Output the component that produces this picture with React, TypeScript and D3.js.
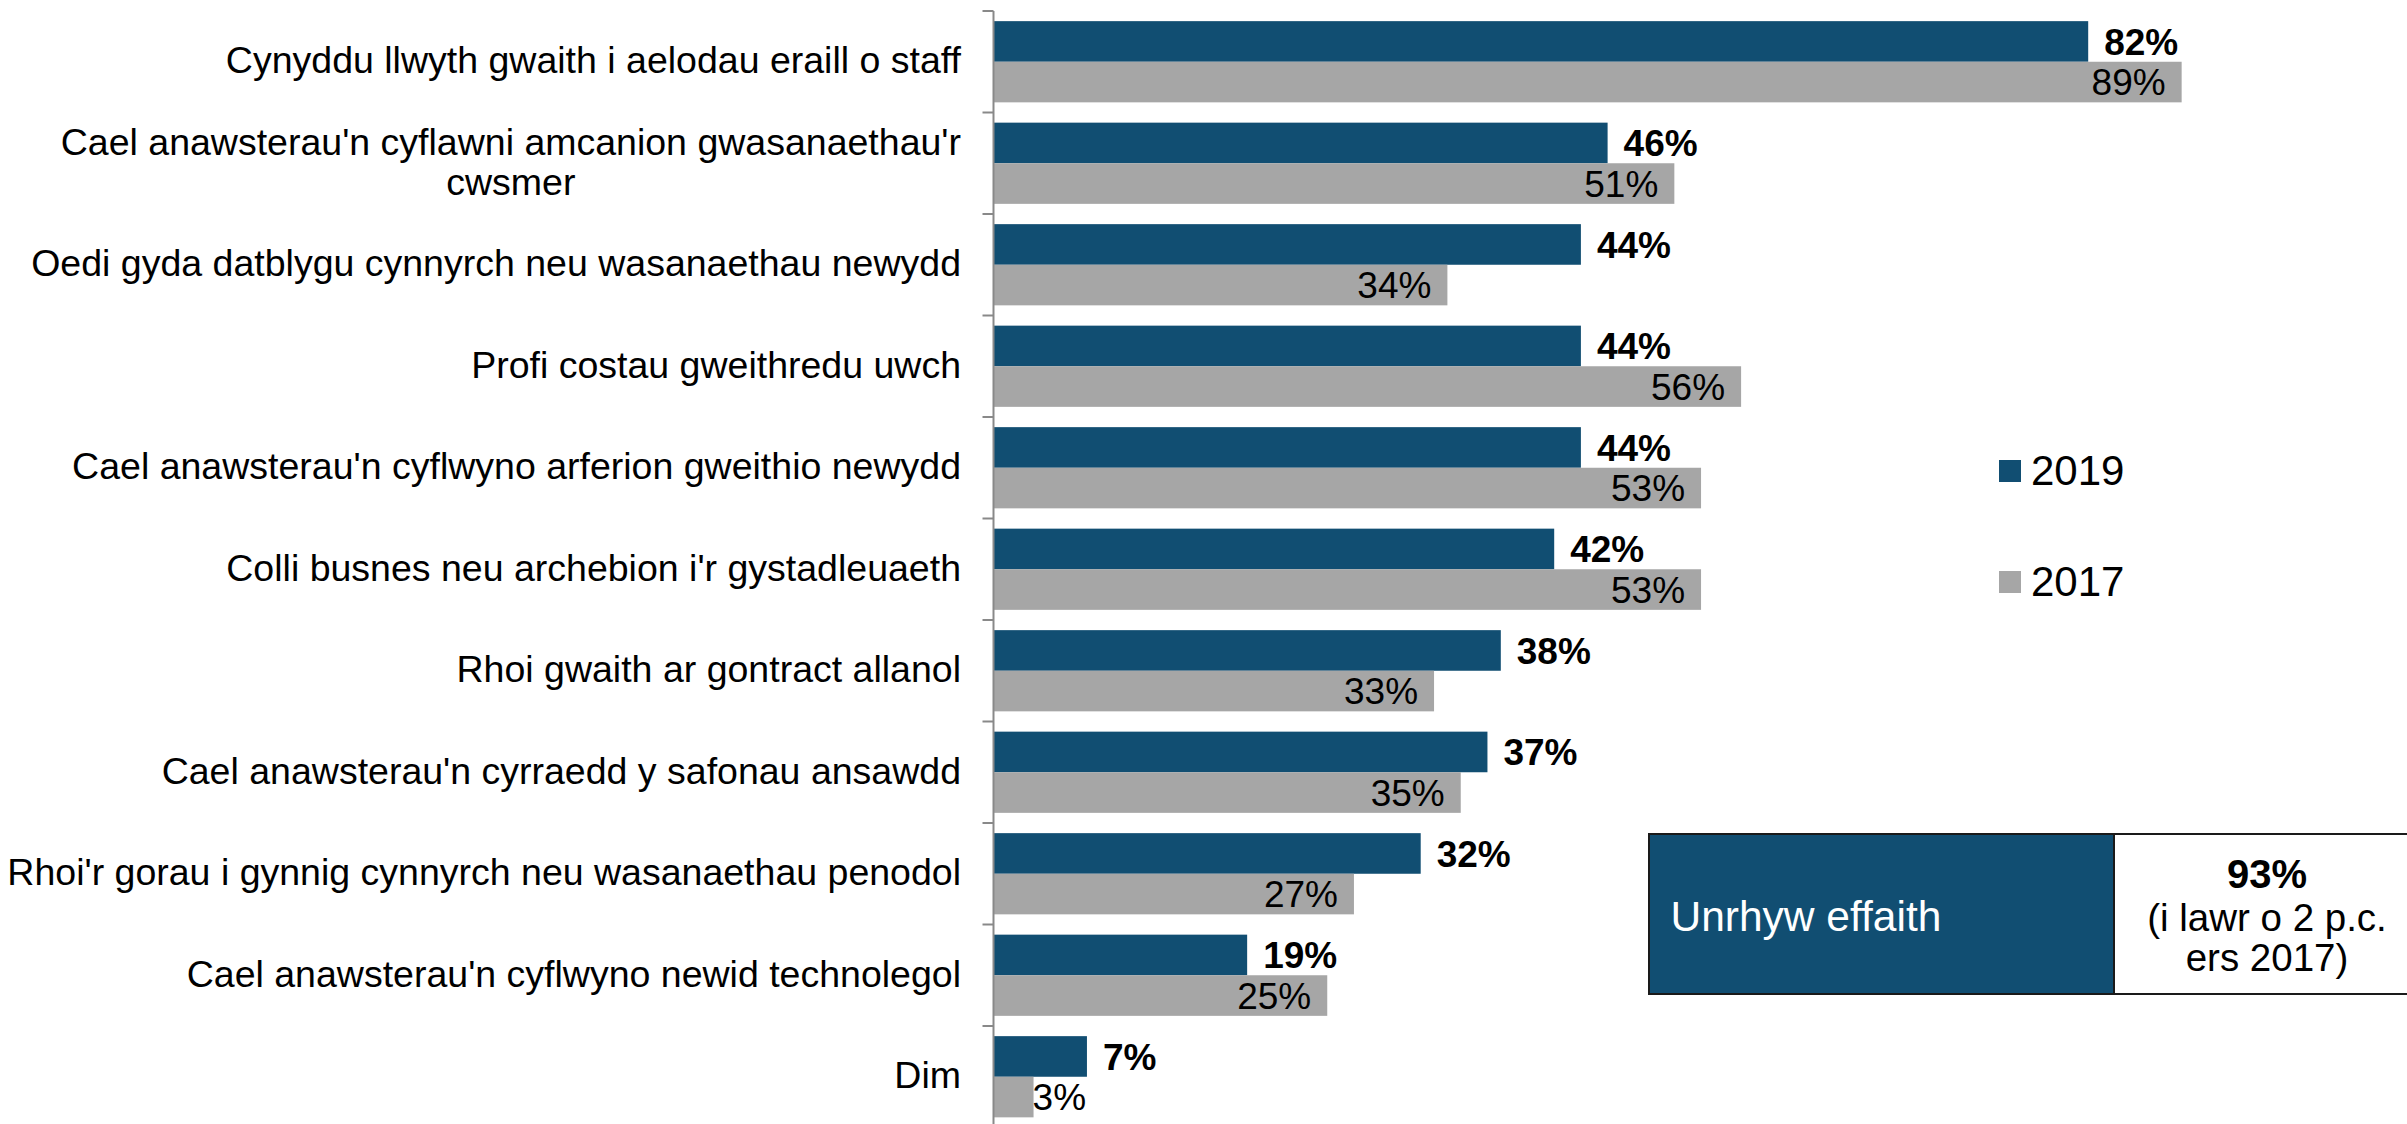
import React from "react";
import * as d3 from "d3";

const categories: string[] = [
  "Cynyddu llwyth gwaith i aelodau eraill o staff",
  "Cael anawsterau'n cyflawni amcanion gwasanaethau'r\ncwsmer",
  "Oedi gyda datblygu cynnyrch neu wasanaethau newydd",
  "Profi costau gweithredu uwch",
  "Cael anawsterau'n cyflwyno arferion gweithio newydd",
  "Colli busnes neu archebion i'r gystadleuaeth",
  "Rhoi gwaith ar gontract allanol",
  "Cael anawsterau'n cyrraedd y safonau ansawdd",
  "Rhoi'r gorau i gynnig cynnyrch neu wasanaethau penodol",
  "Cael anawsterau'n cyflwyno newid technolegol",
  "Dim",
];
const values2019: number[] = [82, 46, 44, 44, 44, 42, 38, 37, 32, 19, 7];
const values2017: number[] = [89, 51, 34, 56, 53, 53, 33, 35, 27, 25, 3];
const seriesNames: string[] = ["2019", "2017"];
const boxLabel = "Unrhyw effaith";
const boxValue = "93%";
const boxNote: string[] = ["(i lawr o 2 p.c.", "ers 2017)"];

const W = 2407;
const H = 1124;
const FONT = "'Liberation Sans', Arial, Helvetica, sans-serif";
const C2019 = "#114e72";
const C2017 = "#a6a6a6";

let measureCtx: CanvasRenderingContext2D | null = null;
function textWidth(s: string, size: number): number {
  if (typeof document === "undefined") return s.length * size * 0.5;
  if (!measureCtx) measureCtx = document.createElement("canvas").getContext("2d");
  if (!measureCtx) return s.length * size * 0.5;
  measureCtx.font = `${size}px ${FONT}`;
  return measureCtx.measureText(s).width;
}

export default function App() {
  const axisX = 993.5;
  const top = 11;
  const step = 101.5;
  const bottom = top + step * categories.length;

  const x = d3.scaleLinear().domain([0, 100]).range([axisX, axisX + 1335]);
  const y = d3
    .scaleBand<string>()
    .domain(categories)
    .range([top, bottom])
    .paddingInner(0.2)
    .paddingOuter(0.1);
  const inner = d3
    .scaleBand<string>()
    .domain(seriesNames)
    .range([0, y.bandwidth()]);

  const catFs = 37.5;
  const valFs = 37;
  const lineH = 40;
  const labelRight = 961;

  const ticks = d3.range(categories.length + 1).map((i) => top + i * step);

  return (
    <svg
      width={W}
      height={H}
      style={{ position: "absolute", left: 0, top: 0, background: "#fff" }}
      fontFamily={FONT}
    >
      <rect x={0} y={0} width={W} height={H} fill="#fff" />
      {/* bars */}
      {categories.map((c, i) => {
        const y0 = y(c)!;
        const v19 = values2019[i];
        const v17 = values2017[i];
        const y19 = y0 + inner("2019")!;
        const y17 = y0 + inner("2017")!;
        const bh = inner.bandwidth();
        const small = v17 < 10;
        return (
          <g key={c}>
            <rect x={x(0)} y={y19} width={x(v19) - x(0)} height={bh} fill={C2019} />
            <rect x={x(0)} y={y17} width={x(v17) - x(0)} height={bh} fill={C2017} />
            <text
              x={x(v19) + 16}
              y={y19 + bh / 2 + valFs * 0.36}
              fontSize={valFs}
              fontWeight="bold"
              fill="#000"
            >
              {v19}%
            </text>
            <text
              x={small ? x(v17) - 1 : x(v17) - 16}
              y={y17 + bh / 2 + valFs * 0.36}
              fontSize={valFs}
              textAnchor={small ? "start" : "end"}
              fill="#000"
            >
              {v17}%
            </text>
          </g>
        );
      })}
      {/* axis */}
      <line x1={axisX} x2={axisX} y1={top} y2={bottom} stroke="#898989" strokeWidth={2} />
      {ticks.map((t, i) => (
        <line key={i} x1={axisX - 11} x2={axisX} y1={t} y2={t} stroke="#898989" strokeWidth={2} />
      ))}
      {/* category labels */}
      {categories.map((c) => {
        const lines = c.split("\n");
        const cy = y(c)! + y.bandwidth() / 2;
        if (lines.length === 1) {
          return (
            <text key={c} x={labelRight} y={cy + catFs * 0.3} fontSize={catFs} textAnchor="end" fill="#000">
              {c}
            </text>
          );
        }
        const maxW = d3.max(lines, (l) => textWidth(l, catFs)) || 0;
        const cx = labelRight - maxW / 2;
        return (
          <text key={c} x={cx} fontSize={catFs} textAnchor="middle" fill="#000">
            {lines.map((l, j) => (
              <tspan key={j} x={cx} y={cy + catFs * 0.3 + (j - (lines.length - 1) / 2) * lineH}>
                {l}
              </tspan>
            ))}
          </text>
        );
      })}
      {/* legend */}
      {seriesNames.map((s, i) => (
        <g key={s}>
          <rect x={1999} y={460 + i * 111} width={22} height={22} fill={i === 0 ? C2019 : C2017} />
          <text x={2031} y={485 + i * 111} fontSize={42} fill="#000">
            {s}
          </text>
        </g>
      ))}
      {/* summary box */}
      <rect x={1649} y={834} width={465} height={160} fill={C2019} stroke="#1a1a1a" strokeWidth={2} />
      <rect x={2114} y={834} width={310} height={160} fill="#fff" stroke="#1a1a1a" strokeWidth={2} />
      <text x={1670.5} y={930.5} fontSize={42.5} fill="#fff">
        {boxLabel}
      </text>
      <text x={2267} y={888} fontSize={40} fontWeight="bold" textAnchor="middle" fill="#000">
        {boxValue}
      </text>
      {boxNote.map((l, i) => (
        <text key={i} x={2267} y={930.5 + i * 40} fontSize={38.5} textAnchor="middle" fill="#000">
          {l}
        </text>
      ))}
    </svg>
  );
}
